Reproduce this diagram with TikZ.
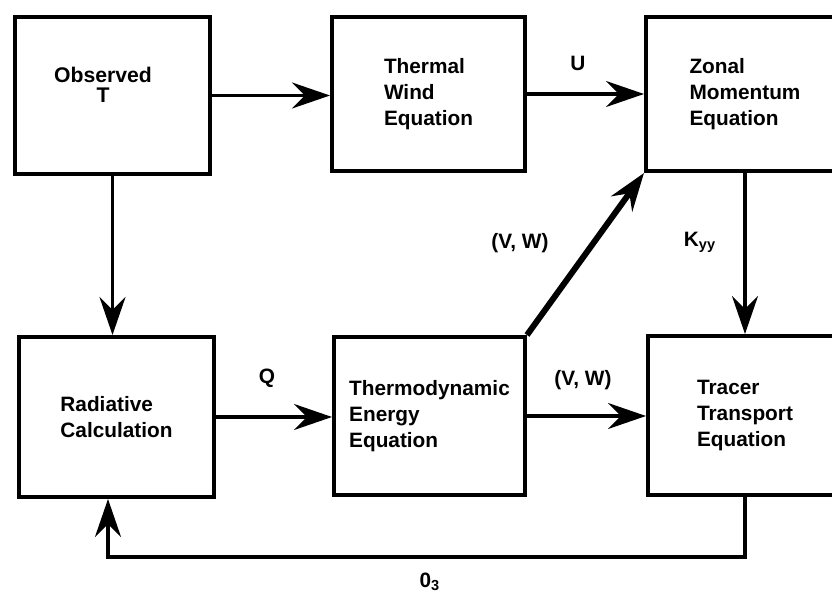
\documentclass[tikz,border=0pt]{standalone}
\usepackage{fontspec}
\setmainfont{Liberation Sans}
\usetikzlibrary{arrows.meta}
\begin{document}
\begin{tikzpicture}[x=0.5pt,y=-0.5pt,
  txt/.style={font=\fontsize{10.4}{13}\selectfont\bfseries},
  box/.style={draw,line width=2pt,inner sep=0pt,align=left,txt},
  arr/.style={line width=1.6pt,-{Stealth[length=19pt,width=13pt,inset=6.5pt]}},
  lbl/.style={txt,inner sep=0pt}]
\useasboundingbox (0,0) rectangle (832,593);
\clip (0,0) rectangle (832,593);
\fill[white] (0,0) rectangle (832,593);
% boxes
\node[box,minimum width=97.5pt,minimum height=78.5pt,
  label={[name=obstxt,align=center,font=\fontsize{10.6}{9.8}\selectfont\bfseries,xshift=-4.75pt,yshift=5.25pt]center:Observed\\T}]
  (obs) at (112.5,95.5) {};
\node[box,minimum width=96.5pt,minimum height=77pt] (thw) at (428.5,94) {Thermal\\Wind\\Equation};
\node[box,minimum width=99pt,minimum height=77pt] (zon) at (745,94) {Zonal\\Momentum\\Equation};
\node[box,minimum width=97.5pt,minimum height=80pt] (rad) at (116.5,417) {Radiative\\Calculation};
\node[box,minimum width=95.5pt,minimum height=79pt] (thm) at (429.5,416) {Thermodynamic\\Energy\\Equation};
\node[box,minimum width=97pt,minimum height=79.5pt] (trc) at (745,415.5) {Tracer\\Transport\\Equation};
% connectors
\draw[arr] (obs.east) -- (obs.east -| thw.west);
\draw[arr] (thw.east) -- (thw.east -| zon.west);
\draw[arr] (obs.south) -- (obs.south |- rad.north);
\draw[arr] (zon.south) -- (zon.south |- trc.north);
\draw[arr] (rad.east) -- (rad.east -| thm.west);
\draw[arr] (thm.east) -- (thm.east -| trc.west);
\draw[arr,line width=3pt] (thm.north east) -- (zon.south west);
\coordinate (fb) at (0,557);
\coordinate (radin) at ([xshift=-4.25pt]rad.south);
\draw[arr,line width=2.2pt] (trc.south) -- (trc.south |- fb) -| (radin);
% labels
\node[lbl] (lu) at (578,63) {U};
\node[lbl] (lq) at (267,378) {Q};
\node[lbl] (lvw1) at (583,380) {(V, W)};
\node[lbl] (lvw2) at (520,243) {(V, W)};
\node[lbl] (lk) at (700,242) {K\textsubscript{yy}};
\node[lbl] (lo) at (430,582) {0\textsubscript{3}};
\end{tikzpicture}
\end{document}
